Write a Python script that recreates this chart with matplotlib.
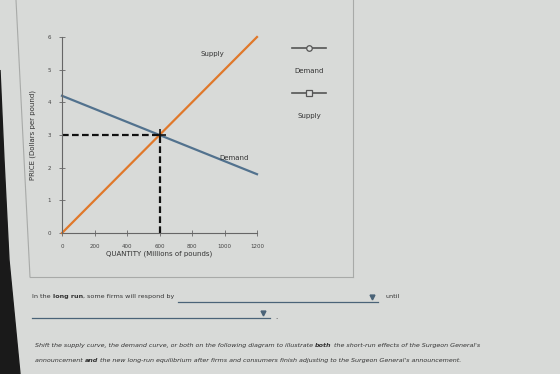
import matplotlib.pyplot as plt
from matplotlib.lines import Line2D
from matplotlib.patches import Polygon

# curve end points
supply_q = [0, 1200]
supply_p = [0, 6]
demand_q = [0, 1200]
demand_p = [4.2, 1.8]
eq_q, eq_p = 600, 3

x_ticks = [0, 200, 400, 600, 800, 1000, 1200]
y_ticks = [0, 1, 2, 3, 4, 5, 6]

W, H = 560, 374
fig = plt.figure(figsize=(W / 100, H / 100), dpi=100)
fig.patch.set_facecolor('#d8dad8')


def px(x, y):
    return x / W, 1 - y / H


# screen bezel / frame lines
fig.patches.append(Polygon([px(0, 70), px(4, 160), px(9, 260), px(20, 374), px(0, 374)],
                           closed=True, transform=fig.transFigure, color='#1a1a1a'))
for (x0, y0, x1, y1) in [(16, 0, 30, 277), (30, 277, 353, 277), (353, 0, 353, 277)]:
    fig.add_artist(Line2D([x0 / W, x1 / W], [1 - y0 / H, 1 - y1 / H],
                          transform=fig.transFigure, color='#a8aaa8', lw=0.8))

ax = fig.add_axes([62 / W, 1 - 233 / H, (257 - 62) / W, (233 - 37) / H])
ax.set_facecolor('none')
ax.plot(supply_q, supply_p, color='#e0782a', lw=1.6, clip_on=False)
ax.plot(demand_q, demand_p, color='#52728e', lw=1.6, clip_on=False)
ax.plot([0, eq_q], [eq_p, eq_p], color='#111111', lw=1.6, ls=(0, (3, 1.5)))
ax.plot([eq_q, eq_q], [0, eq_p], color='#111111', lw=1.6, ls=(0, (3, 1.5)))
ax.plot(eq_q, eq_p, marker='+', color='#111111', ms=8, mew=1.2)

ax.set_xlim(0, 1200)
ax.set_ylim(0, 6)
ax.set_xticks(x_ticks)
ax.set_yticks(y_ticks)
ax.tick_params(direction='inout', length=4, width=0.6, colors='#666666',
               labelsize=4, labelcolor='#444444', pad=6)
for side in ['top', 'right']:
    ax.spines[side].set_visible(False)
for side in ['left', 'bottom']:
    ax.spines[side].set_color('#666666')
    ax.spines[side].set_linewidth(0.8)
ax.set_xlabel('QUANTITY (Millions of pounds)', fontsize=5, color='#333333', labelpad=1)
ax.set_ylabel('PRICE (Dollars per pound)', fontsize=5, color='#333333', labelpad=8)

ax.text(1000, 5.4, 'Supply', fontsize=5, color='#333333', ha='right', va='bottom')
ax.text(1150, 2.2, 'Demand', fontsize=5, color='#333333', ha='right', va='bottom')

# legend on the right
for (yy, mk, lab) in [(48, 'o', 'Demand'), (93, 's', 'Supply')]:
    xs, ys = px(292, yy)
    xe, _ = px(326, yy)
    xm, _ = px(309, yy)
    fig.add_artist(Line2D([xs, xe], [ys, ys], transform=fig.transFigure,
                          color='#555555', lw=1.2))
    fig.add_artist(Line2D([xm], [ys], transform=fig.transFigure, marker=mk,
                          ms=4, mfc='#dcdedc', mec='#555555', mew=0.9, lw=0))
    tx, ty = px(309, yy + 23)
    fig.text(tx, ty, lab, fontsize=5, color='#333333', ha='center', va='center')


# text with mixed weights, drawn piece by piece on a common baseline
def rich(x, y, pieces, size, style='normal'):
    fig.canvas.draw()
    r = fig.canvas.get_renderer()
    xf, yf = px(x, y)
    for s, w in pieces:
        t = fig.text(xf, yf, s, fontsize=size, fontweight=w, style=style,
                     color='#333333', va='baseline')
        bb = t.get_window_extent(renderer=r)
        xf += bb.width / fig.bbox.width


rich(32, 298, [('In the ', 'normal'), ('long run', 'bold'),
               (', some firms will respond by', 'normal')], 4.6)
fig.text(*px(385, 298), 'until', fontsize=4.6, color='#333333', va='baseline')

for (x0, x1, yy, tri) in [(178, 378, 302, 372), (32, 270, 318, 263)]:
    fig.add_artist(Line2D([x0 / W, x1 / W], [1 - yy / H] * 2,
                          transform=fig.transFigure, color='#4a6378', lw=0.9))
    fig.add_artist(Line2D([tri / W], [1 - (yy - 5) / H], transform=fig.transFigure,
                          marker='v', ms=3.5, color='#4a6378', lw=0))
fig.text(*px(275, 319), '.', fontsize=5, color='#333333', va='baseline')

rich(35, 347, [('Shift the supply curve, the demand curve, or both on the following diagram to illustrate ', 'normal'),
               ('both', 'bold'),
               (" the short-run effects of the Surgeon General's", 'normal')], 4.6, 'italic')
rich(35, 362, [('announcement ', 'normal'), ('and', 'bold'),
               (" the new long-run equilibrium after firms and consumers finish adjusting to the Surgeon General's announcement.", 'normal')],
     4.6, 'italic')

fig.savefig('out.png', dpi=100, facecolor=fig.get_facecolor())
